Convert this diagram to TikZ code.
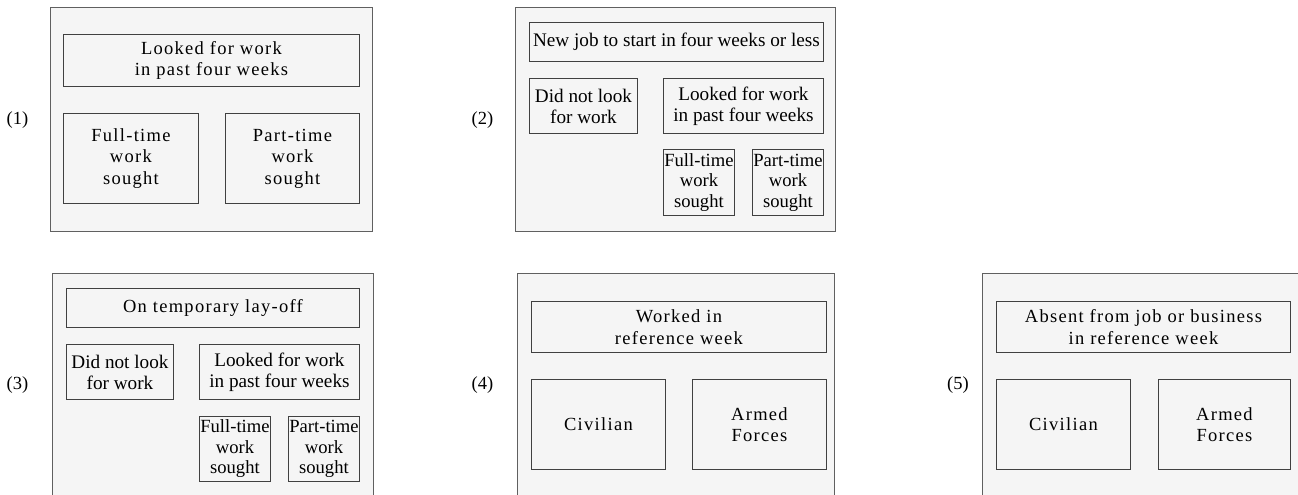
\documentclass[tikz,border=0pt]{standalone}
\usepackage{fontspec}
\setmainfont{Liberation Serif}
\newfontfamily\trk[LetterSpace=7]{Liberation Serif}
\definecolor{panelfill}{HTML}{F5F5F5}
\definecolor{panelline}{HTML}{606060}
\definecolor{boxline}{HTML}{404040}
\begin{document}
\begin{tikzpicture}[x=1pt,y=-1pt,
  panel/.style={draw=panelline, fill=panelfill, line width=1pt, anchor=north west, inner sep=0pt},
  boxw/.style={draw=boxline, line width=0.9pt, anchor=north west, inner sep=0pt, align=center,
     font=\trk\fontsize{18.5}{21.5}\selectfont},
  boxn/.style={draw=boxline, line width=0.9pt, anchor=north west, inner sep=0pt, align=center,
     font=\fontsize{19.2}{21}\selectfont},
  tag/.style={font=\fontsize{18.5}{21}\selectfont, inner sep=0pt}]
\useasboundingbox (0,0) rectangle (1298,495);
\clip (0,0) rectangle (1298,495);
% Panel 1
\node[panel, minimum width=322pt, minimum height=224pt] (p1) at (50,7) {};
\node[boxw, minimum width=296pt, minimum height=52pt] (p1top) at (63,34) {Looked for work\\in past four weeks};
\node[boxw, minimum width=135pt, minimum height=90pt] (p1ft) at (63,113) {Full-time\\work\\sought};
\node[boxw, minimum width=134pt, minimum height=90pt] (p1pt) at (225,113) {Part-time\\work\\sought};
\node[tag] (l1) at (17.5,120.5) {(1)};
% Panel 2
\node[panel, minimum width=320pt, minimum height=224pt] (p2) at (515,7) {};
\node[boxn, minimum width=294pt, minimum height=39pt] (p2top) at (529,22) {New job to start in four weeks or less};
\node[boxn, minimum width=108pt, minimum height=55pt] (p2dnl) at (529,78) {Did not look\\for work};
\node[boxn, minimum width=160pt, minimum height=55pt] (p2lfw) at (663,78) {Looked for work\\in past four weeks};
\node[boxn, minimum width=71pt, minimum height=66pt, font=\fontsize{18.6}{20.5}\selectfont] (p2ft) at (663,149) {Full-time\\work\\sought};
\node[boxn, minimum width=71pt, minimum height=66pt, font=\fontsize{18.6}{20.5}\selectfont] (p2pt) at (752,149) {Part-time\\work\\sought};
\node[tag] (l2) at (482.5,120) {(2)};
% Panel 3
\node[panel, minimum width=321pt, minimum height=240pt] (p3) at (52,273) {};
\node[boxw, minimum width=293pt, minimum height=39pt] (p3top) at (66,288) {On temporary lay-off};
\node[boxn, minimum width=107pt, minimum height=55pt] (p3dnl) at (66,344) {Did not look\\for work};
\node[boxn, minimum width=160pt, minimum height=55pt] (p3lfw) at (199,344) {Looked for work\\in past four weeks};
\node[boxn, minimum width=71pt, minimum height=65pt, font=\fontsize{18.6}{20.5}\selectfont] (p3ft) at (199,416) {Full-time\\work\\sought};
\node[boxn, minimum width=71pt, minimum height=65pt, font=\fontsize{18.6}{20.5}\selectfont] (p3pt) at (288,416) {Part-time\\work\\sought};
\node[tag] (l3) at (17.5,385) {(3)};
% Panel 4
\node[panel, minimum width=317pt, minimum height=240pt] (p4) at (517,273) {};
\node[boxw, minimum width=295pt, minimum height=51pt] (p4top) at (531,301) {Worked in\\reference week};
\node[boxw, minimum width=134pt, minimum height=90pt] (p4civ) at (531,379) {Civilian};
\node[boxw, minimum width=134pt, minimum height=90pt] (p4arm) at (692,379) {Armed\\Forces};
\node[tag] (l4) at (482.5,385) {(4)};
% Panel 5
\node[panel, minimum width=340pt, minimum height=240pt] (p5) at (982,273) {};
\node[boxw, minimum width=294pt, minimum height=51pt] (p5top) at (996,301) {Absent from job or business\\in reference week};
\node[boxw, minimum width=134pt, minimum height=90pt] (p5civ) at (996,379) {Civilian};
\node[boxw, minimum width=132pt, minimum height=90pt] (p5arm) at (1158,379) {Armed\\Forces};
\node[tag] (l5) at (958,385) {(5)};
\end{tikzpicture}
\end{document}
